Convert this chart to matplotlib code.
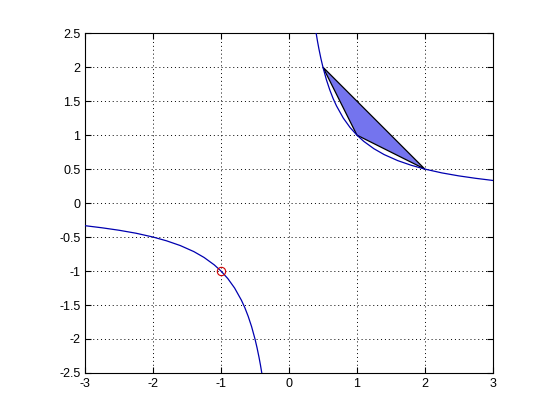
import matplotlib
matplotlib.use('Agg')
import matplotlib.pyplot as plt

plt.rcParams['font.family'] = ['Liberation Sans', 'DejaVu Sans']

x_left = [-3.0, -2.75, -2.5, -2.25, -2.0, -1.8, -1.6, -1.4, -1.25, -1.1, -1.0,
          -0.9, -0.8, -0.7, -0.65, -0.6, -0.55, -0.5, -0.47, -0.44, -0.42, -0.4]
y_left = [-0.333, -0.364, -0.4, -0.444, -0.5, -0.556, -0.625, -0.714, -0.8, -0.909, -1.0,
          -1.111, -1.25, -1.429, -1.538, -1.667, -1.818, -2.0, -2.128, -2.273, -2.381, -2.5]
x_right = [0.4, 0.42, 0.44, 0.47, 0.5, 0.55, 0.6, 0.65, 0.7, 0.8, 0.9, 1.0,
           1.1, 1.25, 1.4, 1.6, 1.8, 2.0, 2.25, 2.5, 2.75, 3.0]
y_right = [2.5, 2.381, 2.273, 2.128, 2.0, 1.818, 1.667, 1.538, 1.429, 1.25, 1.111, 1.0,
           0.909, 0.8, 0.714, 0.625, 0.556, 0.5, 0.444, 0.4, 0.364, 0.333]

tri_x = [0.5, 1.0, 2.0]
tri_y = [2.0, 1.0, 0.5]
mark_x = [-1.0]
mark_y = [-1.0]

xticks = [-3, -2, -1, 0, 1, 2, 3]
yticks = [-2.5, -2, -1.5, -1, -0.5, 0, 0.5, 1, 1.5, 2, 2.5]

fig = plt.figure(figsize=(5.6, 4.2), dpi=100)
ax = fig.add_axes([0.152, 0.112, 0.728, 0.809])

ax.fill(tri_x, tri_y, facecolor='#7474ee', edgecolor='black', linewidth=0.9, zorder=2)
ax.plot(x_left, y_left, color='#0000b0', linewidth=0.9, zorder=3)
ax.plot(x_right, y_right, color='#0000b0', linewidth=0.9, zorder=3)
ax.plot(mark_x, mark_y, 'o', markerfacecolor='none', markeredgecolor='#cc0000',
        markersize=6, markeredgewidth=0.8, zorder=4)

ax.set_xlim(-3, 3)
ax.set_ylim(-2.5, 2.5)
ax.set_xticks(xticks)
ax.set_yticks(yticks)
ax.set_xticklabels([str(t) for t in xticks])
ax.set_yticklabels(['%g' % t for t in yticks])
ax.grid(True, color='black', linestyle=(0, (1, 3)), linewidth=0.7)
ax.tick_params(direction='in', length=4, labelsize=9, top=True, right=True,
               labeltop=False, labelright=False)
for s in ax.spines.values():
    s.set_linewidth(0.8)

fig.savefig('out.png', dpi=100)
